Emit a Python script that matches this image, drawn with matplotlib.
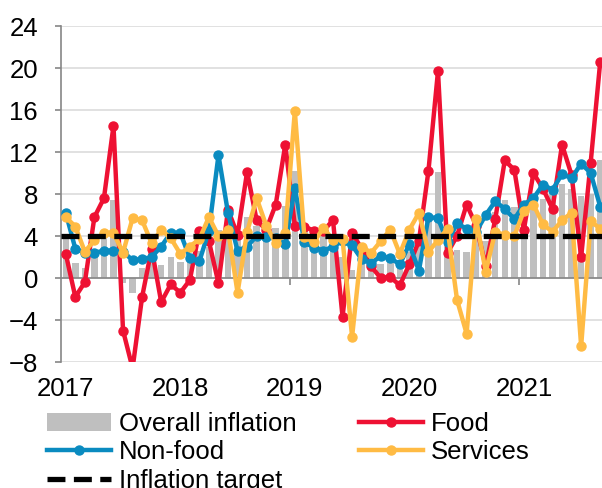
import matplotlib
matplotlib.use("Agg")
import matplotlib.pyplot as plt
import numpy as np
from matplotlib.lines import Line2D
from matplotlib.patches import Patch

plt.rcParams['font.family'] = ['Liberation Sans', 'DejaVu Sans']

years = ['2017', '2018', '2019', '2020', '2021']

overall = [3.8, 1.4, 1.0, 2.0, 4.4, 7.4, -0.5, -1.4, 1.0, 2.0,
           1.2, 2.0, 1.5, 1.6, 2.6, 3.0, 4.6, 5.5, 3.8, 5.8,
           5.0, 4.6, 4.8, 6.9, 10.2, 5.0, 4.5, 4.0, 3.0, 2.0,
           0.8, 2.0, 1.5, 1.3, 1.5, 1.2, 2.5, 3.0, 6.0, 10.1,
           4.7, 2.7, 2.5, 4.5, 3.5, 6.3, 7.4, 6.8, 6.5, 7.6,
           7.5, 8.5, 9.0, 8.5, 7.8, 8.0, 11.2]

food = [2.3, -1.8, -0.4, 5.8, 7.6, 14.5, -5.0, -8.6, -1.8, 2.8,
        -2.3, -0.6, -1.4, -0.2, 4.5, 3.5, -0.5, 6.5, 4.1, 10.1,
        5.5, 4.6, 7.0, 12.7, 5.0, 4.9, 4.5, 4.5, 5.5, -3.7,
        4.3, 2.8, 1.1, 0.0, 0.1, -0.7, 1.3, 3.5, 10.2, 19.7,
        2.4, 4.0, 7.0, 5.0, 1.1, 5.6, 11.2, 10.3, 4.6, 10.0,
        8.5, 6.6, 12.7, 9.8, 2.0, 11.0, 20.6]

nonfood = [6.2, 2.8, 2.4, 2.4, 2.6, 2.6, 2.5, 1.7, 1.8, 2.0,
           3.0, 4.3, 4.3, 1.9, 1.6, 4.5, 11.7, 6.2, 2.6, 3.0,
           4.0, 3.9, 3.8, 3.2, 8.6, 3.4, 2.9, 2.6, 3.0, 3.5,
           3.1, 1.8, 1.4, 2.1, 1.9, 1.3, 3.2, 0.7, 5.8, 5.7,
           3.4, 5.2, 4.7, 4.4, 6.0, 7.3, 6.6, 5.6, 7.0, 7.6,
           8.9, 8.4, 9.9, 9.5, 10.9, 10.0, 6.8]

services = [5.8, 4.9, 2.5, 3.6, 4.3, 4.3, 2.4, 5.7, 5.5, 3.3,
            4.6, 3.8, 2.3, 3.0, 3.7, 5.8, 4.0, 4.6, -1.4, 4.4,
            7.6, 5.0, 3.3, 4.3, 15.9, 3.9, 3.4, 4.8, 3.6, 3.7,
            -5.6, 3.0, 2.4, 3.5, 4.6, 2.3, 4.6, 6.2, 2.5, 3.6,
            4.7, -2.1, -5.3, 5.6, 0.6, 4.4, 4.1, 4.0, 6.4, 7.0,
            5.1, 4.4, 5.5, 6.2, -6.5, 5.4, 4.7]

target = 4.0

RED = '#EE1133'
BLUE = '#0A8BC0'
YELLOW = '#FFBB44'
GRAY = '#BFBFBF'

n = len(overall)
x = np.arange(n)

W, H = 602, 488
fig = plt.figure(figsize=(W / 100, H / 100), dpi=100)
ax = fig.add_axes([61 / W, 126 / H, 544 / W, 336 / H])

ax.set_xlim(-0.5, n - 0.5)
ax.set_ylim(-8, 24)
ax.set_yticks(np.arange(-8, 25, 4))

ax.yaxis.grid(True, color='#D9D9D9', linewidth=1.1, zorder=0)
ax.set_axisbelow(True)

ax.bar(x, overall, width=0.68, color=GRAY, zorder=2)
lw, ms = 3.2, 6.5
ax.plot(x, food, color=RED, lw=lw, marker='o', ms=ms, zorder=3)
ax.plot(x, nonfood, color=BLUE, lw=lw, marker='o', ms=ms, zorder=4)
ax.plot(x, services, color=YELLOW, lw=lw, marker='o', ms=ms, zorder=5)
ax.axhline(target, color='black', lw=3.8, dashes=(3.4, 1.6), zorder=6)

for s in ['top', 'right']:
    ax.spines[s].set_visible(False)
ax.spines['left'].set_color('#868686')
ax.spines['left'].set_linewidth(1.2)
ax.spines['bottom'].set_position(('data', 0))
ax.spines['bottom'].set_color('#868686')
ax.spines['bottom'].set_linewidth(1.2)

ax.tick_params(axis='y', direction='out', length=4.5, width=1.2, color='#868686',
               labelsize=18.5, pad=12)
ax.set_xticks(np.arange(0, n, 12))
ax.set_xticklabels(years)
ax.set_xticks([23.5, 47.5], minor=True)
ax.tick_params(axis='x', which='major', length=0, labelsize=18.5, pad=71)
ax.tick_params(axis='x', which='minor', length=5, width=1.2, color='#868686', direction='out')

handles = [
    Patch(facecolor=GRAY, edgecolor='none'),
    Line2D([], [], color=BLUE, lw=lw, marker='o', ms=ms),
    Line2D([], [], color='black', lw=3.8, dashes=(3.4, 1.6)),
    Line2D([], [], color=RED, lw=lw, marker='o', ms=ms),
    Line2D([], [], color=YELLOW, lw=lw, marker='o', ms=ms),
]
labels = ['Overall inflation', 'Non-food', 'Inflation target', 'Food', 'Services']
fig.legend(handles, labels, ncol=2, loc='upper left',
           bbox_to_anchor=(47 / W, 1 - 412 / H), frameon=False,
           fontsize=18.5, handlelength=2.5, handletextpad=0.3,
           columnspacing=2.42, labelspacing=0.17, borderpad=0, borderaxespad=0,
           numpoints=1, handleheight=0.7)

fig.savefig('out.png', dpi=100)
